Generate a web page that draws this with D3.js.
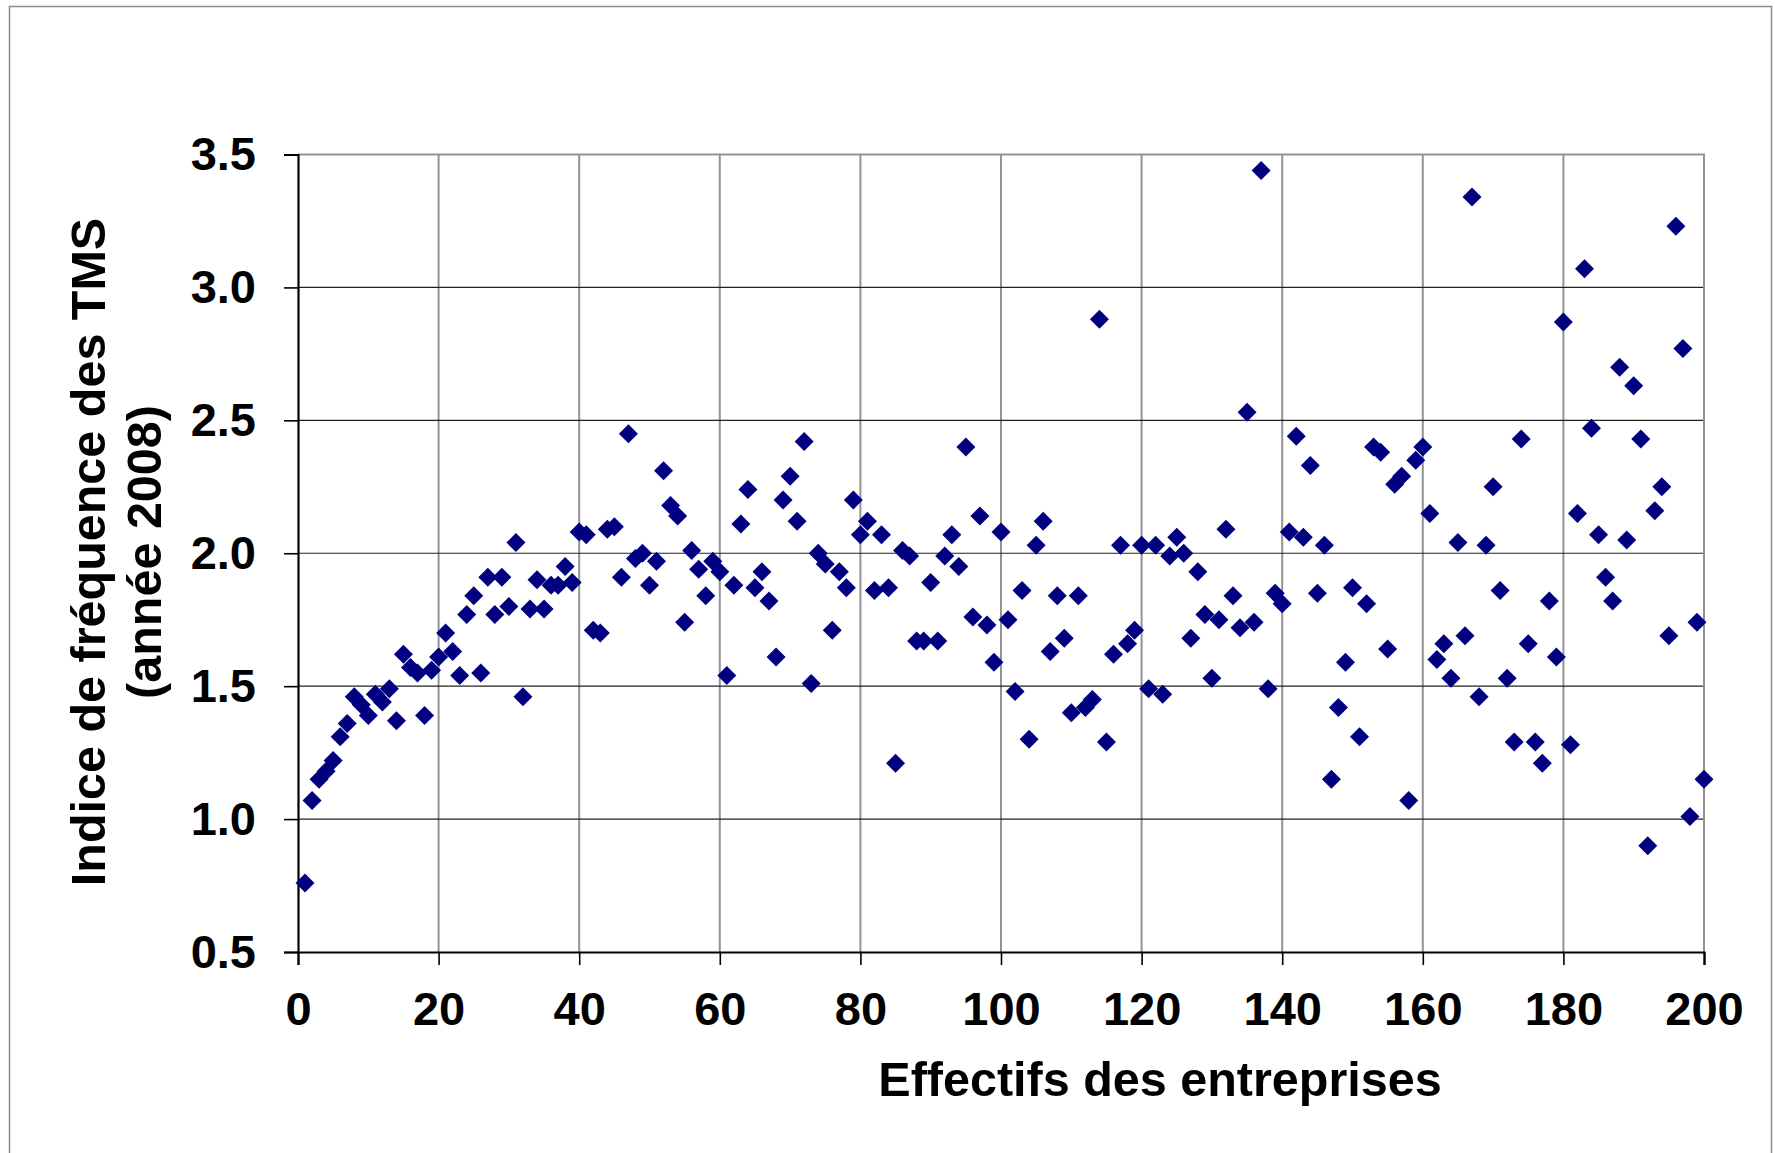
<!DOCTYPE html>
<html>
<head>
<meta charset="utf-8">
<script src="https://cdn.jsdelivr.net/npm/d3@7"></script>
<style>
  body { margin: 0; background: #fff; }
  svg { display: block; }
  text { font-family: "Liberation Sans", Arial, sans-serif; font-weight: bold; }
</style>
</head>
<body>
<div id="chart"></div>
<script>
// Indice de fréquence des TMS (année 2008), one value per company size 1..200
const indice = [
  0.76, 1.07, 1.15, 1.18, 1.22, 1.31, 1.36, 1.46, 1.43, 1.39,
  1.47, 1.44, 1.49, 1.37, 1.62, 1.57, 1.55, 1.39, 1.56, 1.61,
  1.70, 1.63, 1.54, 1.77, 1.84, 1.55, 1.91, 1.77, 1.91, 1.80,
  2.04, 1.46, 1.79, 1.90, 1.79, 1.88, 1.88, 1.95, 1.89, 2.08,
  2.07, 1.71, 1.70, 2.09, 2.10, 1.91, 2.45, 1.98, 2.00, 1.88,
  1.97, 2.31, 2.18, 2.14, 1.74, 2.01, 1.94, 1.84, 1.97, 1.93,
  1.54, 1.88, 2.11, 2.24, 1.87, 1.93, 1.82, 1.61, 2.20, 2.29,
  2.12, 2.42, 1.51, 2.00, 1.96, 1.71, 1.93, 1.87, 2.20, 2.07,
  2.12, 1.86, 2.07, 1.87, 1.21, 2.01, 1.99, 1.67, 1.67, 1.89,
  1.67, 1.99, 2.07, 1.95, 2.40, 1.76, 2.14, 1.73, 1.59, 2.08,
  1.75, 1.48, 1.86, 1.30, 2.03, 2.12, 1.63, 1.84, 1.68, 1.40,
  1.84, 1.42, 1.45, 2.88, 1.29, 1.62, 2.03, 1.66, 1.71, 2.03,
  1.49, 2.03, 1.47, 1.99, 2.06, 2.00, 1.68, 1.93, 1.77, 1.53,
  1.75, 2.09, 1.84, 1.72, 2.53, 1.74, 3.44, 1.49, 1.85, 1.81,
  2.08, 2.44, 2.06, 2.33, 1.85, 2.03, 1.15, 1.42, 1.59, 1.87,
  1.31, 1.81, 2.40, 2.38, 1.64, 2.26, 2.29, 1.07, 2.35, 2.40,
  2.15, 1.60, 1.66, 1.53, 2.04, 1.69, 3.34, 1.46, 2.03, 2.25,
  1.86, 1.53, 1.29, 2.43, 1.66, 1.29, 1.21, 1.82, 1.61, 2.87,
  1.28, 2.15, 3.07, 2.47, 2.07, 1.91, 1.82, 2.70, 2.05, 2.63,
  2.43, 0.90, 2.16, 2.25, 1.69, 3.23, 2.77, 1.01, 1.74, 1.15
];
// effectif = position in the list (1 to 200 employees)
const effectifs = indice.map((d, i) => i + 1);

const xTicks = [0, 20, 40, 60, 80, 100, 120, 140, 160, 180, 200];
const yTicks = [0.5, 1.0, 1.5, 2.0, 2.5, 3.0, 3.5];

const xTitle = "Effectifs des entreprises";
const yTitle = ["Indice de fréquence des TMS", "(année 2008)"];

const width = 1775, height = 1153;
const plot = {left: 298, right: 1704, top: 154.5, bottom: 952};

const x = d3.scaleLinear().domain([0, 200]).range([plot.left, plot.right]);
const y = d3.scaleLinear().domain([0.5, 3.5]).range([plot.bottom, plot.top]);

const svg = d3.select("#chart").append("svg")
  .attr("width", width)
  .attr("height", height);

// chart frame
svg.append("rect")
  .attr("x", 9.5).attr("y", 6.5)
  .attr("width", 1762).attr("height", 1160)
  .attr("fill", "none")
  .attr("stroke", "#8c8c8c")
  .attr("stroke-width", 1.5);

// vertical gridlines (grey)
svg.append("g")
  .selectAll("line")
  .data(xTicks.slice(1))
  .join("line")
  .attr("x1", d => x(d)).attr("x2", d => x(d))
  .attr("y1", plot.top).attr("y2", plot.bottom)
  .attr("stroke", "#939393")
  .attr("stroke-width", 2);

// horizontal gridlines (dark)
svg.append("g")
  .selectAll("line")
  .data(yTicks.slice(1, -1))
  .join("line")
  .attr("x1", plot.left).attr("x2", plot.right)
  .attr("y1", d => y(d)).attr("y2", d => y(d))
  .attr("stroke", "#222")
  .attr("stroke-width", 1.2);

// plot area border top / right
svg.append("path")
  .attr("d", `M${plot.left},${plot.top}H${plot.right}V${plot.bottom}`)
  .attr("fill", "none")
  .attr("stroke", "#939393")
  .attr("stroke-width", 2);

// axes
const yAxis = svg.append("g")
  .attr("transform", `translate(${plot.left},0)`)
  .call(d3.axisLeft(y).tickValues(yTicks).tickFormat(d3.format(".1f")).tickSize(14).tickPadding(28));
const xAxis = svg.append("g")
  .attr("transform", `translate(0,${plot.bottom})`)
  .call(d3.axisBottom(x).tickValues(xTicks).tickSize(13).tickPadding(26));

[xAxis, yAxis].forEach(g => {
  g.select(".domain").attr("stroke", "#000").attr("stroke-width", 2.2);
  g.selectAll(".tick line").attr("stroke", "#000").attr("stroke-width", 1.6);
  g.selectAll(".tick text")
    .attr("fill", "#000")
    .attr("font-size", 47)
    .attr("font-family", "'Liberation Sans', Arial, sans-serif")
    .attr("font-weight", "bold");
});
xAxis.selectAll(".tick text").attr("dy", "0.72em");

// points: navy diamonds
svg.append("g")
  .selectAll("path")
  .data(indice)
  .join("path")
  .attr("transform", (d, i) => `translate(${x(effectifs[i])},${y(d)})`)
  .attr("d", "M0,-9.5L9.5,0L0,9.5L-9.5,0Z")
  .attr("fill", "#000080");

// axis titles
svg.append("text")
  .attr("x", 1160).attr("y", 1096)
  .attr("text-anchor", "middle")
  .attr("font-size", 48.5)
  .attr("fill", "#000")
  .text(xTitle);

svg.append("g")
  .attr("transform", "translate(105,552) rotate(-90)")
  .selectAll("text")
  .data(yTitle)
  .join("text")
  .attr("x", 0)
  .attr("y", (d, i) => i * 56)
  .attr("text-anchor", "middle")
  .attr("font-size", 48.5)
  .attr("fill", "#000")
  .text(d => d);
</script>
</body>
</html>
